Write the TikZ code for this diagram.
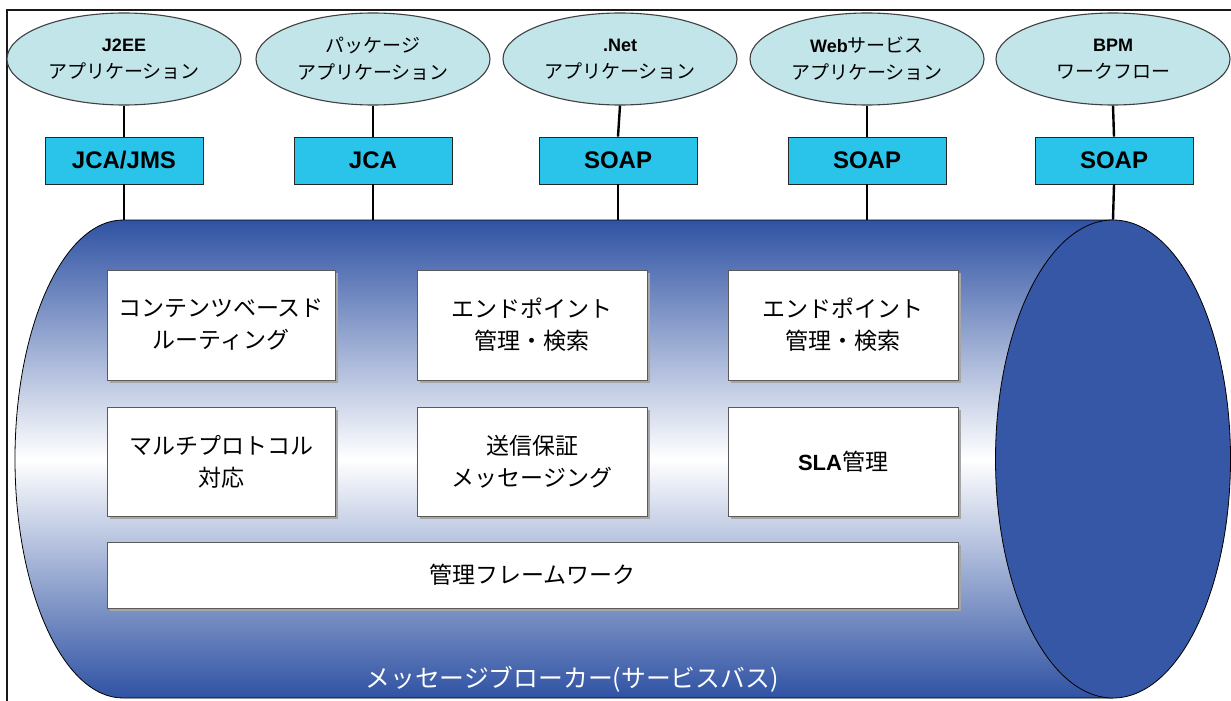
\documentclass[tikz,border=0pt]{standalone}
\usepackage{fontspec}
\newfontfamily\jp{Noto Sans CJK JP}
\newfontfamily\lat{Liberation Sans}
\usetikzlibrary{shapes.geometric,shadows}
\definecolor{bodyblue}{RGB}{47,82,163}
\definecolor{capblue}{RGB}{54,86,166}
\definecolor{appfill}{RGB}{194,229,234}
\definecolor{protofill}{RGB}{42,196,235}
\definecolor{boxline}{RGB}{90,90,90}
\begin{document}
\begin{tikzpicture}[x=1pt,y=-1pt,
  app/.style={ellipse, draw=black!75, line width=1.1pt, fill=appfill,
    minimum width=234, minimum height=92, inner sep=0pt, align=center,
    font=\jp\fontsize{19}{27}\selectfont},
  proto/.style={rectangle, draw=black!85, line width=0.9pt, fill=protofill,
    minimum width=158, minimum height=47, inner sep=0pt,
    font=\lat\bfseries\fontsize{24}{28}\selectfont},
  func/.style={rectangle, draw=boxline, line width=0.9pt, fill=white,
    drop shadow={shadow xshift=3pt, shadow yshift=-3pt, fill=black!35, opacity=1},
    inner sep=0pt, align=center, font=\jp\fontsize{23}{32}\selectfont},
  conn/.style={draw=black, line width=2.4pt},
  frame/.style={draw=black!90, line width=1.5pt}]
\useasboundingbox (0,0) rectangle (1231,701);
\fill[white] (0,0) rectangle (1231,701);
\draw[frame] (7,701) -- (7,10) -- (1231,10);

% cylinder body
\shade[top color=bodyblue, bottom color=bodyblue, middle color=white,
  draw=black, line width=0.8pt]
  (1113,220) -- (123,220) arc[start angle=270, end angle=90, x radius=108, y radius=239]
  -- (1113,698) -- cycle;
\node[ellipse, draw=black, line width=0.8pt, fill=capblue, minimum width=235,
  minimum height=478, inner sep=0pt] (cap) at (1113,459) {};

% applications
\node[app] (a1) at (124,59) {{\lat\bfseries\fontsize{18}{27}\selectfont J2EE}\\アプリケーション};
\node[app] (a2) at (373,59) {パッケージ\\アプリケーション};
\node[app] (a3) at (620,59) {{\lat\bfseries\fontsize{18}{27}\selectfont .Net}\\アプリケーション};
\node[app] (a4) at (867,59) {{\lat\bfseries\fontsize{18}{27}\selectfont Web}サービス\\アプリケーション};
\node[app] (a5) at (1113,59) {{\lat\bfseries\fontsize{18}{27}\selectfont BPM}\\ワークフロー};

% protocols
\node[proto] (p1) at (124,160.5) {JCA/JMS};
\node[proto] (p2) at (373,160.5) {JCA};
\node[proto] (p3) at (618,160.5) {SOAP};
\node[proto] (p4) at (867,160.5) {SOAP};
\node[proto] (p5) at (1114,160.5) {SOAP};

\coordinate (t1) at (124,220);
\coordinate (t2) at (373,220);
\coordinate (t3) at (618,220);
\coordinate (t4) at (867,220);

\foreach \i in {1,...,5} {\draw[conn] (a\i.south) -- (p\i.north);}
\draw[conn] (p1.south) -- (t1);
\draw[conn] (p2.south) -- (t2);
\draw[conn] (p3.south) -- (t3);
\draw[conn] (p4.south) -- (t4);
\draw[conn] (p5.south) -- (cap.north);

% functions
\node[func, minimum width=228, minimum height=110] (f1) at (221,325) {コンテンツベースド\\ルーティング};
\node[func, minimum width=230, minimum height=110] (f2) at (532,325) {エンドポイント\\管理・検索};
\node[func, minimum width=230, minimum height=110] (f3) at (843,325) {エンドポイント\\管理・検索};
\node[func, minimum width=228, minimum height=109] (f4) at (221,461.5) {マルチプロトコル\\対応};
\node[func, minimum width=230, minimum height=109] (f5) at (532,461.5) {送信保証\\メッセージング};
\node[func, minimum width=230, minimum height=109] (f6) at (843,461.5) {{\lat\bfseries\fontsize{22}{32}\selectfont SLA}管理};
\node[func, minimum width=851, minimum height=66] (f7) at (532.5,575) {管理フレームワーク};

\node[text=white, inner sep=0pt, font=\jp\fontsize{24.8}{28}\selectfont] (lbl) at (572,679) {メッセージブローカー(サービスバス)};
\end{tikzpicture}
\end{document}
